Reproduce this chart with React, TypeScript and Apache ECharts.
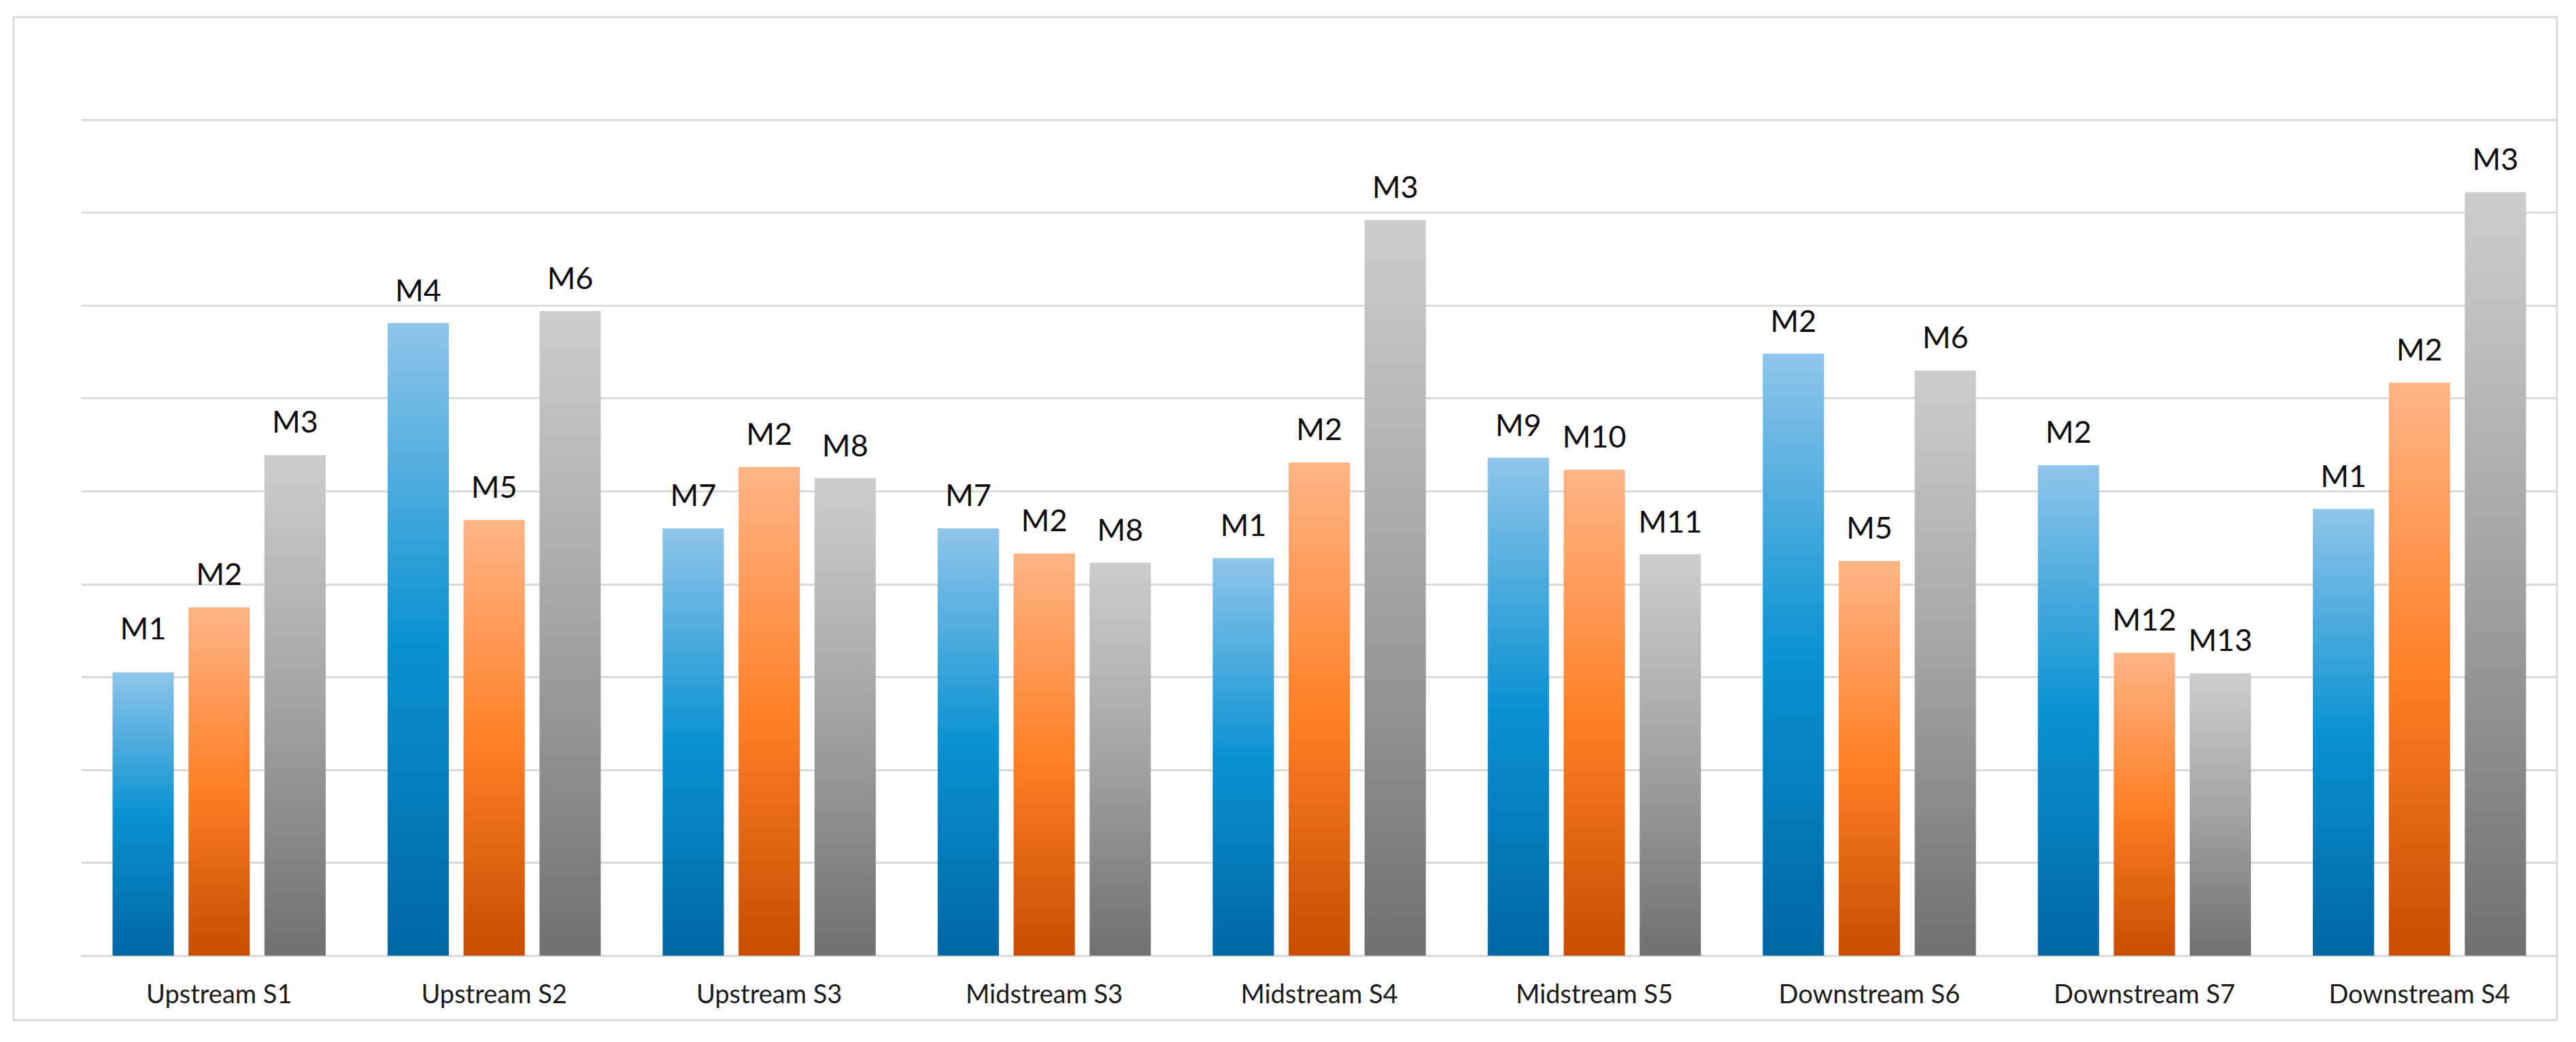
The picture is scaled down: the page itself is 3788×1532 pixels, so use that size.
import React, { useEffect, useRef } from "react";
import * as echarts from "echarts";

const categories = [
  "Upstream S1",
  "Upstream S2",
  "Upstream S3",
  "Midstream S3",
  "Midstream S4",
  "Midstream S5",
  "Downstream S6",
  "Downstream S7",
  "Downstream S4",
];

const firstValues = [3.05, 6.81, 4.6, 4.6, 4.28, 5.36, 6.48, 5.28, 4.81];
const secondValues = [3.75, 4.69, 5.26, 4.33, 5.31, 5.23, 4.25, 3.26, 6.17];
const thirdValues = [5.39, 6.94, 5.14, 4.23, 7.92, 4.32, 6.3, 3.04, 8.22];

const firstLabels = ["M1", "M4", "M7", "M7", "M1", "M9", "M2", "M2", "M1"];
const secondLabels = ["M2", "M5", "M2", "M2", "M2", "M10", "M5", "M12", "M2"];
const thirdLabels = ["M3", "M6", "M8", "M8", "M3", "M11", "M6", "M13", "M3"];

// the first label of the first series sits a little higher in the original
const firstLabelLift = [16, 0, 0, 0, 0, 0, 0, 0, 0];

const yTicks = [0, 1, 2, 3, 4, 5, 6, 7, 8, 9];

const FONT = "Lato, 'Liberation Sans', sans-serif";

function grad(top: string, mid: string, bottom: string) {
  return new echarts.graphic.LinearGradient(0, 0, 0, 1, [
    { offset: 0, color: top },
    { offset: 0.5, color: mid },
    { offset: 1, color: bottom },
  ]);
}

function makeSeries(
  name: string,
  values: number[],
  labels: string[],
  color: any,
  lift?: number[]
) {
  return {
    name,
    type: "bar",
    data: values.map((v, i) =>
      lift && lift[i]
        ? { value: v, label: { offset: [0, -lift[i]] } }
        : { value: v }
    ),
    itemStyle: { color },
    barGap: "24%",
    barCategoryGap: "22.5%",
    label: {
      show: true,
      position: "top",
      distance: 27,
      fontFamily: FONT,
      fontSize: 45,
      color: "#0d0d0d",
      formatter: (p: any) => labels[p.dataIndex],
    },
  };
}

export default function App() {
  const ref = useRef<HTMLDivElement>(null);

  useEffect(() => {
    if (!ref.current) return;
    const chart = echarts.init(ref.current, undefined, { renderer: "svg" });
    chart.setOption({
      animation: false,
      backgroundColor: "#ffffff",
      grid: { left: 120, right: 28, top: 176, bottom: 127, containLabel: false },
      xAxis: {
        type: "category",
        data: categories,
        axisLine: { show: true, lineStyle: { color: "#d9d9d9", width: 3 } },
        axisTick: { show: false },
        axisLabel: {
          fontFamily: FONT,
          fontSize: 38,
          color: "#1a1a1a",
          margin: 36,
        },
      },
      yAxis: {
        type: "value",
        min: yTicks[0],
        max: yTicks[yTicks.length - 1],
        interval: 1,
        axisLine: { show: false },
        axisTick: { show: false },
        axisLabel: { show: false },
        splitLine: { show: true, lineStyle: { color: "#d9d9d9", width: 3 } },
      },
      graphic: [
        {
          type: "rect",
          shape: { x: 20, y: 25, width: 3740, height: 1475 },
          style: { fill: "none", stroke: "#d9d9d9", lineWidth: 3 },
          z: 100,
        },
      ],
      series: [
        makeSeries("A", firstValues, firstLabels, grad("#8fc5ea", "#0a92d2", "#0066a4"), firstLabelLift),
        makeSeries("B", secondValues, secondLabels, grad("#ffb487", "#ff8128", "#c94c00")),
        makeSeries("C", thirdValues, thirdLabels, grad("#cdcdcd", "#a3a3a3", "#707070")),
      ],
    });
    return () => chart.dispose();
  }, []);

  return (
    <div
      ref={ref}
      style={{ position: "fixed", left: 0, top: 0, width: 3788, height: 1532 }}
    />
  );
}
